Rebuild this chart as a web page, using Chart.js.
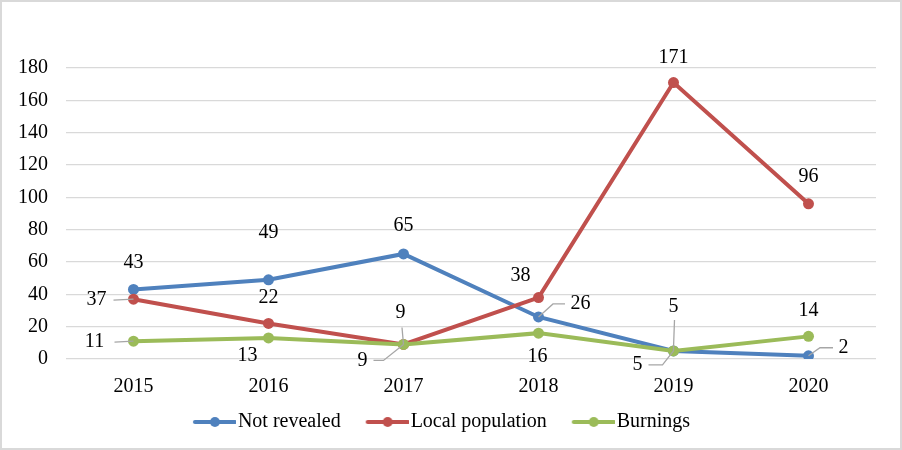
<!DOCTYPE html>
<html>
<head>
<meta charset="utf-8">
<script src="https://cdn.jsdelivr.net/npm/chart.js@4.4.1/dist/chart.umd.min.js"></script>
<style>
html,body{margin:0;padding:0;background:#fff;}
#wrap{width:902px;height:450px;position:relative;}
</style>
</head>
<body>
<div id="wrap"><canvas id="c" width="902" height="450"></canvas></div>
<script>
const categories = ['2015', '2016', '2017', '2018', '2019', '2020'];
const notRevealed = [43, 49, 65, 26, 5, 2];
const localPopulation = [37, 22, 9, 38, 171, 96];
const burnings = [11, 13, 9, 16, 5, 14];
const yTicks = [0, 20, 40, 60, 80, 100, 120, 140, 160, 180];

const FONT = '"Liberation Serif", "Times New Roman", serif';
const BLUE = '#4F81BD', RED = '#C0504D', GREEN = '#9BBB59';

// label placement (style only): offset of label centre from point, optional leader path
const labelStyle = [
  [ {dx:0,dy:-27}, {dx:0,dy:-47}, {dx:0,dy:-28},
    {dx:42,dy:-13, lead:[[14.5,-13],[26.5,-13]]},
    {dx:0,dy:-44, lead:[[0,-3],[1,-31]]},
    {dx:35,dy:-8, lead:[[11.5,-8],[24.5,-8]]} ],
  [ {dx:-37,dy:1, lead:[[-20,1]]}, {dx:0,dy:-26},
    {dx:-3,dy:-32, lead:[[-1.5,-17]]},
    {dx:-18,dy:-22}, {dx:0,dy:-25}, {dx:0,dy:-27} ],
  [ {dx:-39,dy:1, lead:[[-19,1]]}, {dx:-21,dy:18},
    {dx:-41,dy:16, lead:[[-20,16],[-30,16]]},
    {dx:-1,dy:24},
    {dx:-36,dy:14, lead:[[-11,14],[-25,14]]},
    {dx:0,dy:-26} ]
];

function legendIcon(color){
  const cv = document.createElement('canvas');
  cv.width = 58; cv.height = 12;
  const g = cv.getContext('2d');
  g.strokeStyle = color; g.lineWidth = 4; g.lineCap = 'round';
  g.beginPath(); g.moveTo(17, 6); g.lineTo(57, 6); g.stroke();
  g.fillStyle = color; g.beginPath(); g.arc(37, 6, 5, 0, Math.PI*2); g.fill();
  return cv;
}

const bgBorder = {
  id: 'bgBorder',
  beforeDraw(chart){
    const ctx = chart.ctx;
    ctx.save();
    ctx.fillStyle = '#fff';
    ctx.fillRect(0,0,chart.width,chart.height);
    ctx.strokeStyle = '#d9d9d9'; ctx.lineWidth = 2;
    ctx.strokeRect(1,1,chart.width-2,chart.height-2);
    ctx.restore();
  }
};

const dataLabels = {
  id: 'dataLabels',
  afterDatasetsDraw(chart){
    const ctx = chart.ctx;
    ctx.save();
    ctx.font = '20px ' + FONT;
    ctx.textAlign = 'center';
    ctx.textBaseline = 'middle';
    chart.data.datasets.forEach((ds, di) => {
      const meta = chart.getDatasetMeta(di);
      meta.data.forEach((pt, i) => {
        const st = labelStyle[di][i];
        if (st.lead){
          ctx.strokeStyle = '#a6a6a6'; ctx.lineWidth = 1.3;
          ctx.beginPath(); ctx.moveTo(pt.x, pt.y);
          st.lead.forEach(p => ctx.lineTo(pt.x + p[0], pt.y + p[1]));
          ctx.stroke();
        }
        ctx.fillStyle = '#000';
        ctx.fillText(String(ds.data[i]), pt.x + st.dx, pt.y + st.dy);
      });
    });
    ctx.restore();
  }
};

function ds(label, data, color, order){
  return {
    label, data, order,
    borderColor: color, backgroundColor: color,
    pointBackgroundColor: color, pointBorderColor: color,
    borderWidth: 4, pointRadius: 5.5, pointBorderWidth: 0,
    pointStyle: 'circle',
    tension: 0, fill: false
  };
}

const datasets = [
  ds('Not revealed', notRevealed, BLUE, 3),
  ds('Local population', localPopulation, RED, 2),
  ds('Burnings', burnings, GREEN, 1)
];
const icons = [legendIcon(BLUE), legendIcon(RED), legendIcon(GREEN)];

new Chart(document.getElementById('c'), {
  type: 'line',
  data: { labels: categories, datasets },
  options: {
    responsive: false,
    animation: false,
    devicePixelRatio: 1,
    layout: { padding: { top: 68, left: 0, right: 26, bottom: 8 } },
    plugins: {
      tooltip: { enabled: false },
      legend: {
        position: 'bottom',
        labels: {
          font: { family: FONT, size: 20 },
          color: '#000',
          usePointStyle: true,
          pointStyleWidth: 42,
          boxHeight: 12,
          padding: 18,
          sort: (a, b) => a.datasetIndex - b.datasetIndex,
          generateLabels(chart){
            return chart.data.datasets.map((d, i) => ({
              text: d.label, datasetIndex: i, pointStyle: icons[i],
              fillStyle: d.borderColor, strokeStyle: d.borderColor,
              lineWidth: 0, hidden: false, fontColor: '#000'
            }));
          }
        }
      }
    },
    scales: {
      x: {
        offset: true,
        afterFit(s){ s.height = 35; s._computeLabelArea = () => undefined; },
        grid: { display: false, drawTicks: false },
        border: { display: false },
        ticks: { font: { family: FONT, size: 20 }, color: '#000', padding: 16 }
      },
      y: {
        min: 0, max: 180,
        afterFit(s){ s.width = 66; },
        afterBuildTicks(s){ s.ticks = yTicks.map(v => ({ value: v })); },
        grid: { color: '#d9d9d9', lineWidth: 1.3, drawTicks: false },
        border: { display: false },
        ticks: { font: { family: FONT, size: 20 }, color: '#000', padding: 18 }
      }
    }
  },
  plugins: [bgBorder, dataLabels]
});
</script>
</body>
</html>
